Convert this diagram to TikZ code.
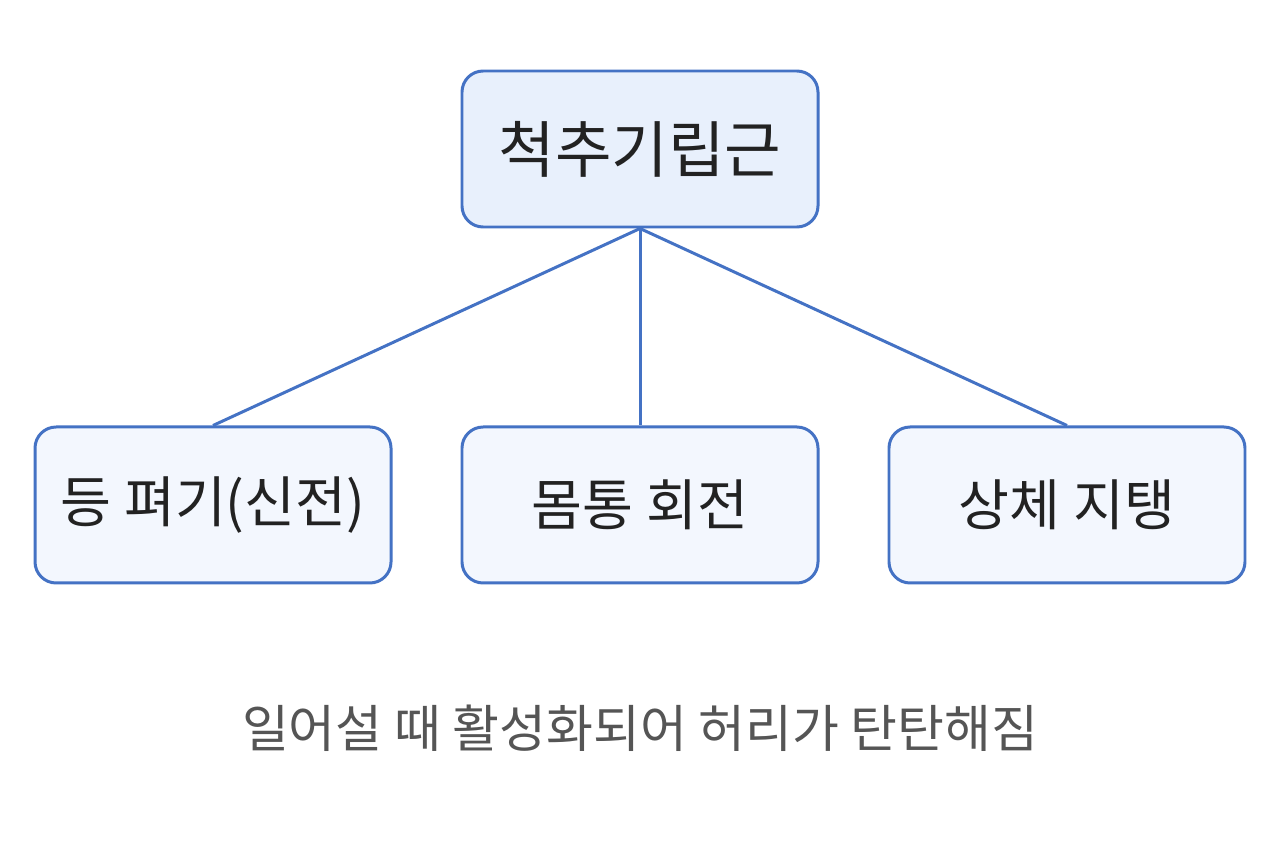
\documentclass[tikz,border=0pt]{standalone}
\usepackage{fontspec}
\setmainfont{Noto Sans CJK KR}
\definecolor{muscleblue}{RGB}{68, 114, 196}
\definecolor{rootfill}{RGB}{232, 240, 252}
\definecolor{leaffill}{RGB}{243, 247, 254}
\definecolor{inktext}{RGB}{34, 34, 34}
\definecolor{notegray}{RGB}{85, 85, 85}
\usetikzlibrary{positioning}

\begin{document}
\begin{tikzpicture}
  \useasboundingbox (0,0) rectangle (25.6,-17.06);
  \tikzset{
    musclebox/.style={draw=muscleblue, line width=1.7pt, rounded corners=12pt,
      minimum width=7.12cm, minimum height=3.12cm, text=inktext, inner sep=0pt},
    link/.style={draw=muscleblue, line width=1.7pt}
  }
  \node[musclebox, fill=rootfill, font=\fontsize{35}{42}\selectfont] (root) at (12.8,-2.98) {척추기립근};
  \node[musclebox, fill=leaffill, font=\fontsize{31.5}{38}\selectfont, below=3.94cm of root] (twist) {몸통 회전};
  \node[musclebox, fill=leaffill, font=\fontsize{31.5}{38}\selectfont, left=1.36cm of twist] (extend) {등 펴기(신전)};
  \node[musclebox, fill=leaffill, font=\fontsize{31.5}{38}\selectfont, right=1.36cm of twist] (hold) {상체 지탱};

  \draw[link] (root.south) -- (extend.north);
  \draw[link] (root.south) -- (twist.north);
  \draw[link] (root.south) -- (hold.north);

  \node[text=notegray, font=\fontsize{29}{35}\selectfont] (note) at (12.8,-14.56) {일어설 때 활성화되어 허리가 탄탄해짐};
\end{tikzpicture}
\end{document}
